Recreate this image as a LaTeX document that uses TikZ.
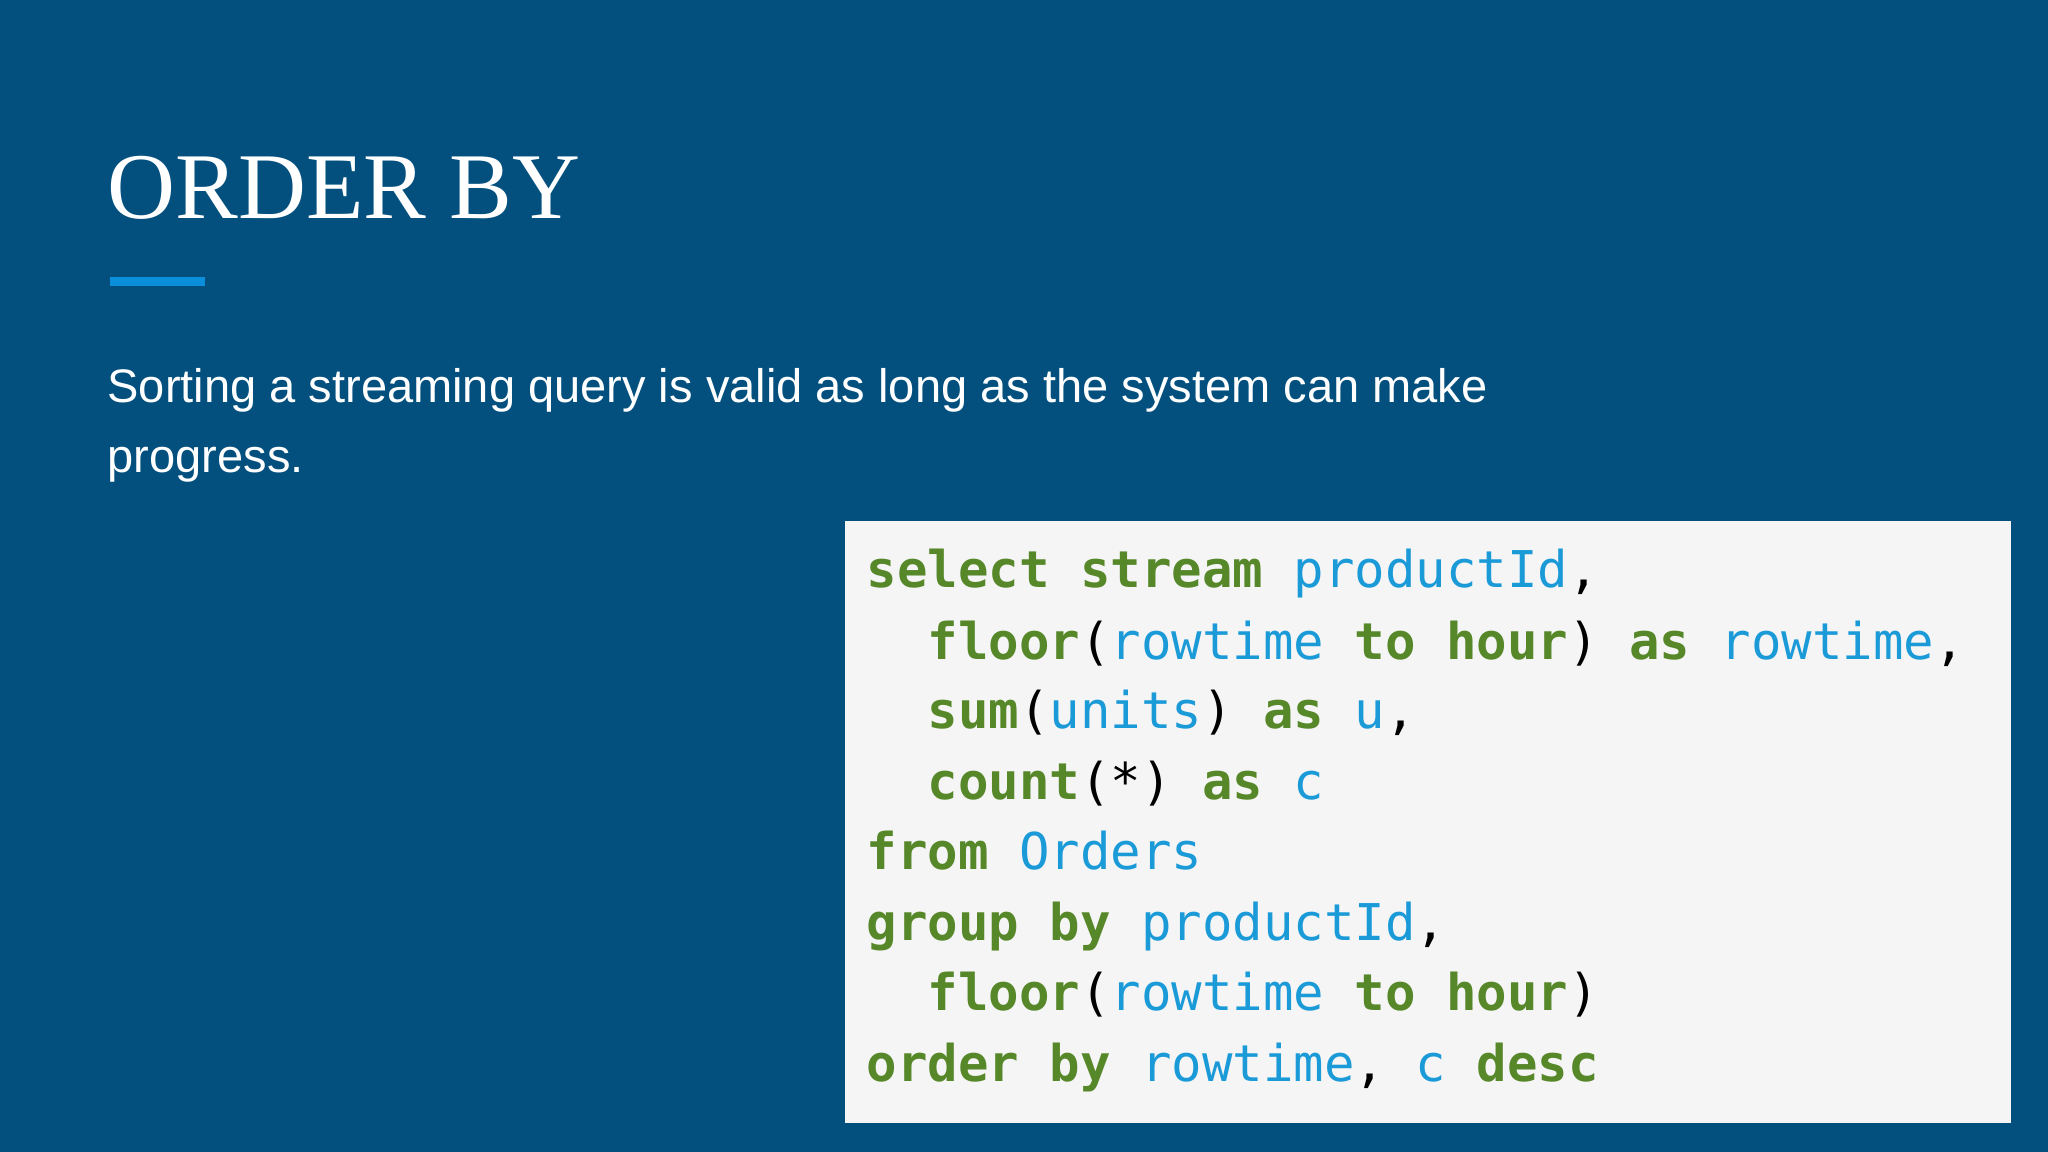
\documentclass[tikz,border=0pt]{standalone}
\usepackage{fontspec}
\setmainfont{Liberation Sans}
\newfontfamily\titlefont{Liberation Serif}
\newfontfamily\codefont{DejaVu Sans Mono}
\definecolor{bg}{HTML}{03507E}
\definecolor{bar}{HTML}{0B8FDB}
\definecolor{codebg}{HTML}{F6F5F6}
\definecolor{kw}{HTML}{56882A}
\definecolor{idc}{HTML}{1B9AD8}
\newcommand{\kk}[1]{\textcolor{kw}{\bfseries #1}}
\newcommand{\ii}[1]{\textcolor{idc}{#1}}
\begin{document}
\begin{tikzpicture}[x=0.5pt,y=-0.5pt,
  txt/.style={anchor=base west,inner sep=0,text=white},
  code/.style={anchor=base west,inner sep=0,font=\codefont\fontsize{19.4pt}{24pt}\selectfont}]
\fill[bg] (0,0) rectangle (1568,882);
\useasboundingbox (0,0) rectangle (1568,882);
\node[txt,font=\titlefont\fontsize{36pt}{40pt}\selectfont] (title) at (82,167) {ORDER BY};
\fill[bar] (84,212) rectangle (157,219);
\node[txt,font=\fontsize{18pt}{22pt}\selectfont] (l1) at (82,308) {Sorting a streaming query is valid as long as the system can make};
\node[txt,font=\fontsize{18pt}{22pt}\selectfont] (l2) at (82,362) {progress.};
\fill[codebg] (647,399) rectangle (1540,860);
\node[code] (c1) at (663,450) {\kk{select stream} \ii{productId},};
\node[code] (c2) at (663,505) {\phantom{xx}\kk{floor}(\ii{rowtime} \kk{to} \kk{hour}) \kk{as} \ii{rowtime},};
\node[code] (c3) at (663,558) {\phantom{xx}\kk{sum}(\ii{units}) \kk{as} \ii{u},};
\node[code] (c4) at (663,612) {\phantom{xx}\kk{count}(*) \kk{as} \ii{c}};
\node[code] (c5) at (663,666) {\kk{from} \ii{Orders}};
\node[code] (c6) at (663,720) {\kk{group by} \ii{productId},};
\node[code] (c7) at (663,774) {\phantom{xx}\kk{floor}(\ii{rowtime} \kk{to} \kk{hour})};
\node[code] (c8) at (663,828) {\kk{order by} \ii{rowtime}, \ii{c} \kk{desc}};
\end{tikzpicture}
\end{document}
